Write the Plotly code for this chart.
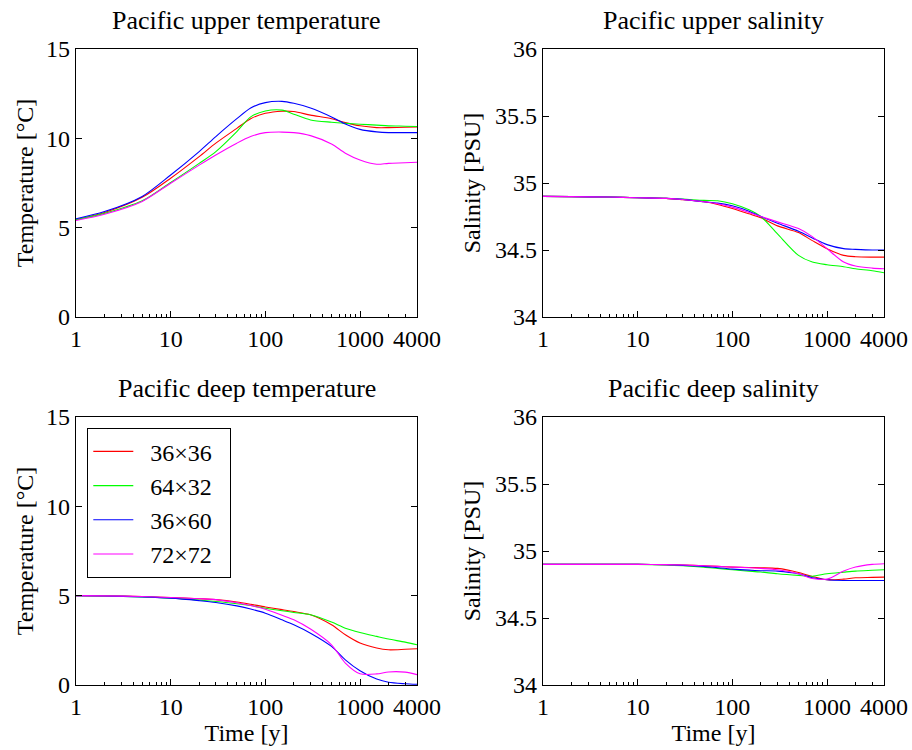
import plotly.graph_objects as go

T = [1, 2, 5, 10, 20, 30, 50, 70, 100, 150, 200, 300, 500, 700, 1000, 1500, 2000, 3000, 4000]
series_names = ["36×36", "64×32", "36×60", "72×72"]
colors = ["#ff0000", "#00ff00", "#0000ff", "#ff00ff"]

upper_temp = {
    "36×36": [5.45, 5.85, 6.7, 7.77, 8.98, 9.73, 10.56, 11.1, 11.4, 11.52, 11.5, 11.3, 11.1, 10.88, 10.7, 10.6, 10.6, 10.62, 10.64],
    "64×32": [5.45, 5.8, 6.5, 7.53, 8.6, 9.26, 10.38, 11.2, 11.53, 11.58, 11.35, 11.03, 10.9, 10.84, 10.79, 10.74, 10.7, 10.68, 10.66],
    "36×60": [5.5, 5.9, 6.75, 7.95, 9.26, 10.1, 11.1, 11.7, 12.0, 12.07, 11.96, 11.7, 11.2, 10.8, 10.5, 10.36, 10.32, 10.32, 10.32],
    "72×72": [5.4, 5.75, 6.47, 7.49, 8.5, 9.07, 9.73, 10.1, 10.32, 10.35, 10.32, 10.15, 9.68, 9.17, 8.79, 8.55, 8.6, 8.63, 8.66],
}
upper_sal = {
    "36×36": [34.9, 34.898, 34.895, 34.89, 34.885, 34.875, 34.86, 34.84, 34.81, 34.77, 34.74, 34.68, 34.63, 34.57, 34.51, 34.46, 34.45, 34.447, 34.447],
    "64×32": [34.9, 34.898, 34.895, 34.89, 34.885, 34.88, 34.87, 34.867, 34.845, 34.80, 34.75, 34.62, 34.46, 34.41, 34.39, 34.375, 34.36, 34.345, 34.33],
    "36×60": [34.9, 34.898, 34.895, 34.89, 34.885, 34.878, 34.86, 34.85, 34.83, 34.79, 34.75, 34.70, 34.64, 34.59, 34.54, 34.51, 34.505, 34.5, 34.5],
    "72×72": [34.9, 34.898, 34.895, 34.89, 34.885, 34.877, 34.86, 34.845, 34.82, 34.78, 34.75, 34.71, 34.66, 34.6, 34.51, 34.41, 34.38, 34.365, 34.36],
}
deep_temp = {
    "36×36": [5.0, 4.99, 4.95, 4.9, 4.83, 4.78, 4.65, 4.52, 4.37, 4.22, 4.11, 3.93, 3.37, 2.81, 2.35, 2.07, 1.97, 2.0, 2.03],
    "64×32": [5.0, 4.98, 4.93, 4.86, 4.75, 4.67, 4.55, 4.45, 4.3, 4.16, 4.06, 3.93, 3.52, 3.18, 2.94, 2.72, 2.57, 2.4, 2.25],
    "36×60": [5.0, 4.98, 4.93, 4.86, 4.72, 4.62, 4.43, 4.25, 4.02, 3.65, 3.37, 2.9, 2.16, 1.41, 0.8, 0.33, 0.15, 0.07, 0.04],
    "72×72": [5.0, 4.99, 4.95, 4.9, 4.83, 4.78, 4.6, 4.45, 4.24, 3.9, 3.65, 3.13, 2.25, 1.23, 0.63, 0.62, 0.73, 0.72, 0.58],
}
deep_sal = {
    "36×36": [34.9, 34.9, 34.9, 34.9, 34.898, 34.895, 34.89, 34.885, 34.88, 34.877, 34.875, 34.87, 34.84, 34.81, 34.785, 34.79, 34.80, 34.803, 34.805],
    "64×32": [34.9, 34.9, 34.9, 34.9, 34.895, 34.89, 34.88, 34.87, 34.86, 34.85, 34.843, 34.83, 34.818, 34.812, 34.83, 34.842, 34.85, 34.856, 34.86],
    "36×60": [34.9, 34.9, 34.9, 34.9, 34.897, 34.893, 34.885, 34.875, 34.865, 34.857, 34.853, 34.85, 34.83, 34.8, 34.785, 34.78, 34.78, 34.78, 34.78],
    "72×72": [34.9, 34.9, 34.9, 34.9, 34.898, 34.895, 34.89, 34.885, 34.88, 34.875, 34.87, 34.86, 34.83, 34.795, 34.79, 34.85, 34.88, 34.9, 34.905],
}

x_ticks = [1, 10, 100, 1000, 4000]
x_ticktext = ["1", "10", "100", "1000", "4000"]
x_minor = [2, 3, 4, 5, 6, 7, 8, 9, 20, 30, 40, 50, 60, 70, 80, 90,
           200, 300, 400, 500, 600, 700, 800, 900, 2000, 3000]
temp_ticks = [0, 5, 10, 15]
sal_ticks = [34, 34.5, 35, 35.5, 36]
sal_ticktext = ["34", "34.5", "35", "35.5", "36"]

titles = ["Pacific upper temperature", "Pacific upper salinity",
          "Pacific deep temperature", "Pacific deep salinity"]

W, H = 912, 750
panels = [
    (upper_temp, 1, (76, 417), (49, 317), "T"),
    (upper_sal, 2, (543, 884), (49, 317), "S"),
    (deep_temp, 3, (76, 417), (417, 685), "T"),
    (deep_sal, 4, (543, 884), (417, 685), "S"),
]

FONT = "Liberation Serif, Times New Roman, serif"
FS = 24
fig = go.Figure()
layout = dict(
    width=W, height=H,
    margin=dict(l=0, r=0, t=0, b=0),
    paper_bgcolor="white", plot_bgcolor="white",
    font=dict(family=FONT, size=FS, color="black"),
    showlegend=True,
    legend=dict(x=87 / W, y=1 - 428 / H, xanchor="left", yanchor="top",
                bordercolor="black", borderwidth=1.3, bgcolor="white",
                font=dict(size=FS), tracegroupgap=0, itemwidth=40),
    annotations=[],
)

for i, (data, k, (x0, x1), (y0, y1), kind) in enumerate(panels):
    xa, ya = "x%d" % k, "y%d" % k
    for j, name in enumerate(series_names):
        fig.add_trace(go.Scatter(
            x=T, y=data[name], mode="lines", name="  " + name + "  ",
            line=dict(color=colors[j], width=1.1, shape="spline", smoothing=0.8),
            xaxis=xa, yaxis=ya, showlegend=(i == 2),
        ))
    common_x = dict(
        type="log", range=[0, 3.60206], automargin=False,
        tickvals=x_ticks, ticks="inside", ticklen=6, showgrid=False, zeroline=False,
        minor=dict(tickvals=x_minor, ticks="inside", ticklen=3, showgrid=False,
                   tickcolor="black"),
        tickcolor="black",
    )
    layout["xaxis%d" % k] = dict(
        common_x, domain=[x0 / W, x1 / W], anchor=ya,
        ticktext=x_ticktext, showline=True, linecolor="black", linewidth=1.3, mirror=True,
        tickfont=dict(size=FS),
        title=dict(text="Time [y]" if i >= 2 else "", standoff=5, font=dict(size=FS)),
    )
    layout["xaxis%d" % (k + 4)] = dict(
        common_x, domain=[x0 / W, x1 / W], anchor=ya, overlaying=xa, side="top",
        showticklabels=False, showline=False,
    )
    if kind == "T":
        yd = dict(range=[0, 15], tickvals=temp_ticks,
                  title=dict(text="Temperature [°C]", standoff=5, font=dict(size=FS)))
    else:
        yd = dict(range=[34, 36], tickvals=sal_ticks, ticktext=sal_ticktext,
                  title=dict(text="Salinity [PSU]", standoff=7, font=dict(size=FS)))
    yd.update(domain=[1 - y1 / H, 1 - y0 / H], anchor=xa, ticks="inside", ticklen=6,
              showline=True, linecolor="black", linewidth=1.3, mirror="ticks",
              showgrid=False, zeroline=False, tickfont=dict(size=FS), automargin=False,
              tickcolor="black")
    layout["yaxis%d" % k] = yd
    layout["annotations"].append(dict(
        text=titles[i], x=(x0 + x1) / 2 / W, y=1 - (y0 - 12) / H,
        xref="paper", yref="paper", xanchor="center", yanchor="bottom",
        showarrow=False, font=dict(size=26),
    ))

fig.update_layout(**layout)
fig.write_html("out.html")
